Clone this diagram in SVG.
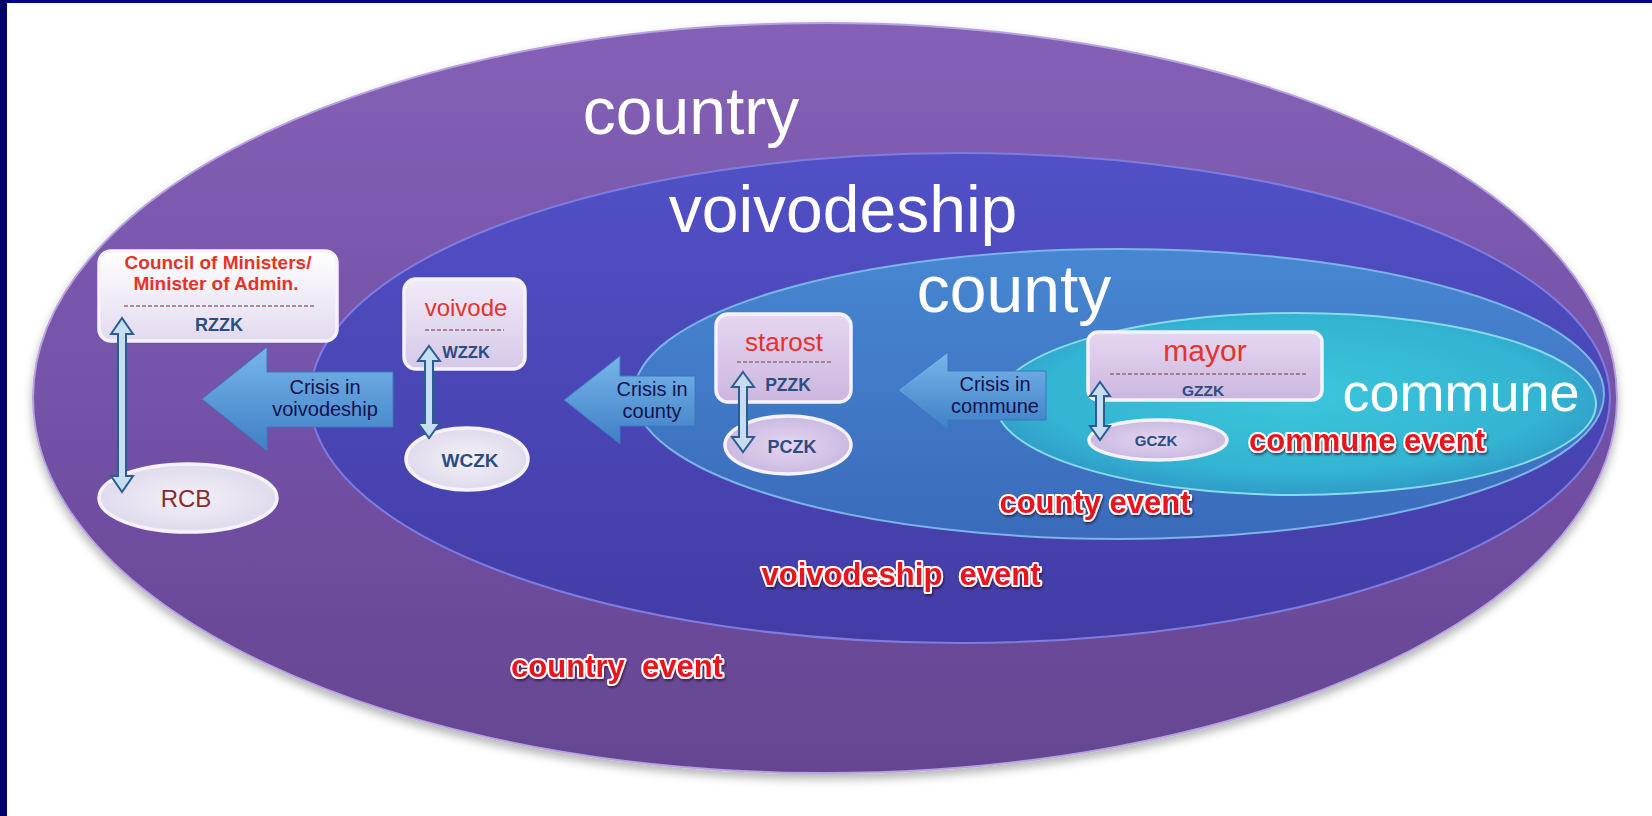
<svg xmlns="http://www.w3.org/2000/svg" width="1652" height="816" viewBox="0 0 1652 816">
<style>
.lbl{font-family:"Liberation Sans",Arial,sans-serif;fill:#ffffff;text-anchor:middle}
.evt{font-family:"Liberation Sans",Arial,sans-serif;font-weight:bold;font-size:31px;fill:#e8121c;stroke:#ffffff;stroke-width:4;paint-order:stroke;stroke-linejoin:round;text-anchor:middle;filter:url(#tsh)}
.ttl{font-family:"Liberation Sans",Arial,sans-serif;fill:#e5332a;text-anchor:middle}
.code{font-family:"Liberation Sans",Arial,sans-serif;font-weight:bold;fill:#2c4d80;text-anchor:middle}
.crs{font-family:"Liberation Sans",Arial,sans-serif;font-size:20px;fill:#12124e;text-anchor:middle}
.dash{stroke:#9a6a7c;stroke-width:1.6;stroke-dasharray:4 2;fill:none}
.box{stroke:#f6f2fb;stroke-width:3.5}
.dbl{fill:#c9ddf0;stroke:#2b5d93;stroke-width:2;stroke-linejoin:miter}
.crisis{fill:url(#gCrisis);stroke:#3a78bf;stroke-width:1}
</style>
<defs>
<linearGradient id="gCountry" x1="0" y1="0" x2="0" y2="1">
<stop offset="0" stop-color="#8461b6"/><stop offset="0.5" stop-color="#7452a8"/><stop offset="1" stop-color="#654591"/>
</linearGradient>
<linearGradient id="gVoiv" x1="0" y1="0" x2="0" y2="1">
<stop offset="0" stop-color="#5150c6"/><stop offset="1" stop-color="#433ca6"/>
</linearGradient>
<linearGradient id="gCounty" x1="0" y1="0" x2="0" y2="1">
<stop offset="0" stop-color="#4787d2"/><stop offset="1" stop-color="#3a6bbb"/>
</linearGradient>
<radialGradient id="gCommune" cx="0.5" cy="0.45" r="0.6">
<stop offset="0" stop-color="#3cc6dc"/><stop offset="0.7" stop-color="#33b4d2"/><stop offset="1" stop-color="#2f92c4"/>
</radialGradient>
<linearGradient id="gBoxW" x1="0" y1="0" x2="0" y2="1">
<stop offset="0" stop-color="#ffffff"/><stop offset="1" stop-color="#e2daef"/>
</linearGradient>
<linearGradient id="gBoxL" x1="0" y1="0" x2="0" y2="1">
<stop offset="0" stop-color="#f2ebf9"/><stop offset="1" stop-color="#d5c8e8"/>
</linearGradient>
<linearGradient id="gBoxP" x1="0" y1="0" x2="0" y2="1">
<stop offset="0" stop-color="#e6d6f0"/><stop offset="1" stop-color="#ccb6df"/>
</linearGradient>
<radialGradient id="gEllW" cx="0.5" cy="0.5" r="0.6">
<stop offset="0" stop-color="#f3f1f8"/><stop offset="1" stop-color="#dcd6ea"/>
</radialGradient>
<radialGradient id="gEllP" cx="0.5" cy="0.5" r="0.6">
<stop offset="0" stop-color="#e4d6f0"/><stop offset="1" stop-color="#c6b4de"/>
</radialGradient>
<linearGradient id="gCrisis" x1="0" y1="0" x2="0" y2="1">
<stop offset="0" stop-color="#78b6ea"/><stop offset="1" stop-color="#3f7fc6"/>
</linearGradient>
<filter id="shadow" x="-5%" y="-5%" width="110%" height="115%">
<feDropShadow dx="0" dy="5" stdDeviation="5" flood-color="#000000" flood-opacity="0.3"/>
</filter>
<filter id="tsh" x="-5%" y="-20%" width="110%" height="150%">
<feDropShadow dx="1" dy="2" stdDeviation="1.2" flood-color="#300010" flood-opacity="0.6"/>
</filter>
</defs>
<rect x="0" y="0" width="1652" height="816" fill="#ffffff"/>
<rect x="0" y="0" width="1652" height="3" fill="#000096"/>
<rect x="0" y="0" width="7" height="816" fill="#00006c"/>

<g id="country">
<ellipse cx="825" cy="398" rx="792" ry="375" fill="url(#gCountry)" stroke="#b7a2df" stroke-width="2" filter="url(#shadow)"/>
<text class="lbl" x="691" y="134" font-size="66">country</text>
<text class="evt" x="617" y="677" xml:space="preserve">country  event</text>
</g>
<g id="voivodeship">
<ellipse cx="960" cy="398" rx="650" ry="245" fill="url(#gVoiv)" stroke="#7f7ce0" stroke-width="2"/>
<text class="lbl" x="843" y="232" font-size="66">voivodeship</text>
<text class="evt" x="901" y="585" xml:space="preserve">voivodeship  event</text>
</g>
<g id="county">
<ellipse cx="1119" cy="394" rx="485" ry="145" fill="url(#gCounty)" stroke="#7db2ea" stroke-width="2"/>
<text class="lbl" x="1014" y="312" font-size="66">county</text>
<text class="evt" x="1095" y="513">county event</text>
</g>
<g id="commune">
<ellipse cx="1296" cy="404" rx="300" ry="91" fill="url(#gCommune)" stroke="#86dcec" stroke-width="2"/>
<text class="lbl" x="1461" y="411" font-size="54">commune</text>
<text class="evt" x="1367" y="451">commune event</text>
</g>

<g id="node-council">
<rect class="box" x="99" y="251" width="238" height="90" rx="12" fill="url(#gBoxW)"/>
<text class="ttl" x="218" y="269" font-size="19" font-weight="bold">Council of Ministers/</text>
<text class="ttl" x="216" y="290" font-size="19" font-weight="bold">Minister of Admin.</text>
<line class="dash" x1="124" y1="306" x2="314" y2="306"/>
<text class="code" x="219" y="331" font-size="18">RZZK</text>
</g>
<g id="node-rcb">
<ellipse class="box" cx="188" cy="498" rx="89" ry="34" fill="url(#gEllW)"/>
<text x="186" y="507" font-family="Liberation Sans, Arial, sans-serif" font-size="24" fill="#8a2b2b" text-anchor="middle">RCB</text>
</g>
<g id="node-voivode">
<rect class="box" x="404" y="279" width="121" height="90" rx="12" fill="url(#gBoxL)"/>
<text class="ttl" x="466" y="316" font-size="24">voivode</text>
<line class="dash" x1="425" y1="330" x2="504" y2="330"/>
<text class="code" x="466" y="358" font-size="16.5">WZZK</text>
</g>
<g id="node-wczk">
<ellipse class="box" cx="467" cy="459" rx="61" ry="31" fill="url(#gEllW)"/>
<text class="code" x="470" y="467" font-size="19">WCZK</text>
</g>
<g id="node-starost">
<rect class="box" x="716" y="314" width="135" height="88" rx="12" fill="url(#gBoxP)"/>
<text class="ttl" x="784" y="351" font-size="26">starost</text>
<line class="dash" x1="737" y1="362" x2="832" y2="362"/>
<text class="code" x="788" y="391" font-size="17.5">PZZK</text>
</g>
<g id="node-pczk">
<ellipse class="box" cx="788" cy="445" rx="63" ry="29" fill="url(#gEllP)"/>
<text class="code" x="792" y="453" font-size="18">PCZK</text>
</g>
<g id="node-mayor">
<rect class="box" x="1088" y="332" width="234" height="68" rx="10" fill="url(#gBoxP)"/>
<text class="ttl" x="1205" y="361" font-size="30">mayor</text>
<line class="dash" x1="1110" y1="374" x2="1308" y2="374"/>
<text class="code" x="1203" y="396" font-size="15.5">GZZK</text>
</g>
<g id="node-gczk">
<ellipse class="box" cx="1158" cy="440" rx="69" ry="20" fill="url(#gEllP)"/>
<text class="code" x="1156" y="446" font-size="15" fill="#3d4d78">GCZK</text>
</g>

<g id="connectors">
<path class="dbl" d="M122,318 L133,334 L126,334 L126,476 L133,476 L122,492 L111,476 L118,476 L118,334 L111,334 Z"/>
<path class="dbl" d="M429,346 L440,361 L433,361 L433,423 L440,423 L429,438 L418,423 L425,423 L425,361 L418,361 Z"/>
<path class="dbl" d="M743,372 L754,387 L747,387 L747,437 L754,437 L743,452 L732,437 L739,437 L739,387 L732,387 Z"/>
<path class="dbl" d="M1100,382 L1110,396 L1104,396 L1104,426 L1110,426 L1100,440 L1090,426 L1096,426 L1096,396 L1090,396 Z"/>
<g id="crisis-voivodeship">
<path class="crisis" d="M202,399 L267,347 L267,372 L393,372 L393,427 L267,427 L267,451 Z"/>
<text class="crs" x="325" y="394">Crisis in</text>
<text class="crs" x="325" y="416">voivodeship</text>
</g>
<g id="crisis-county">
<path class="crisis" d="M564,400 L620,356 L620,376 L695,376 L695,426 L620,426 L620,444 Z"/>
<text class="crs" x="652" y="396">Crisis in</text>
<text class="crs" x="652" y="418">county</text>
</g>
<g id="crisis-commune">
<path class="crisis" d="M898,390 L948,352 L948,371 L1046,371 L1046,420 L948,420 L948,430 Z"/>
<text class="crs" x="995" y="391">Crisis in</text>
<text class="crs" x="995" y="413">commune</text>
</g>
</g>
</svg>
